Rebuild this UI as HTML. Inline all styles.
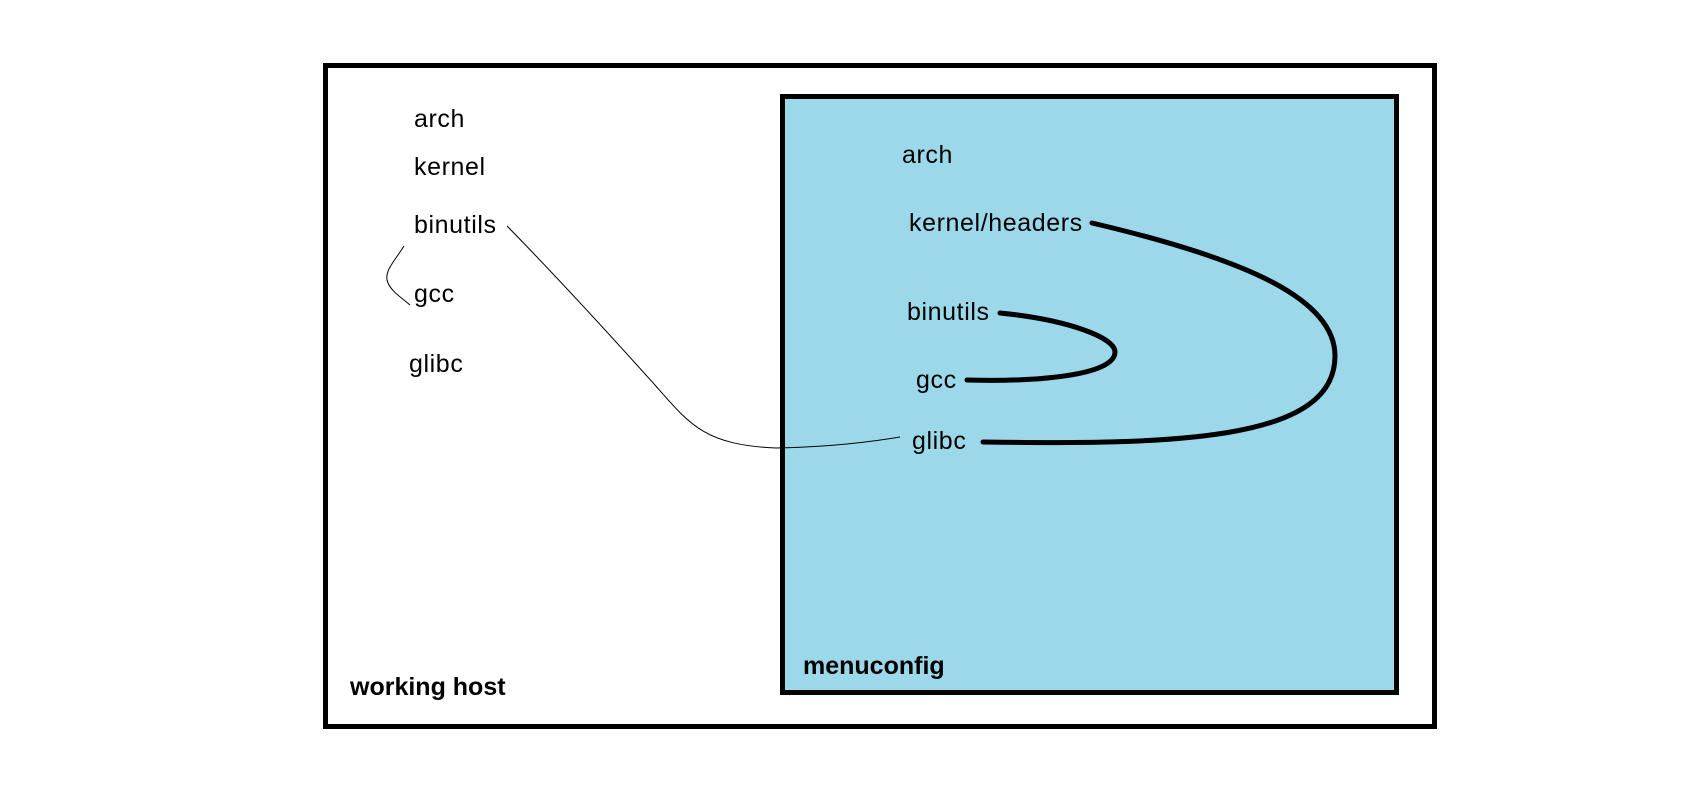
<!DOCTYPE html>
<html><head><meta charset="utf-8"><style>
html,body{margin:0;padding:0;background:#fff;}
svg{display:block;}
text{font-family:"Liberation Sans",sans-serif;font-size:25px;fill:#000;letter-spacing:0.6px;}
.b{font-weight:bold;letter-spacing:0;}
</style></head><body>
<svg width="1687" height="808" viewBox="0 0 1687 808" xmlns="http://www.w3.org/2000/svg">
<rect x="325.5" y="65.5" width="1109" height="661" fill="#fff" stroke="#000" stroke-width="5"/>
<rect x="782.5" y="96.5" width="614" height="596" fill="#9BD9EA" stroke="#000" stroke-width="5"/>
<text x="414" y="127">arch</text>
<text x="414" y="175">kernel</text>
<text x="414" y="233">binutils</text>
<text x="414" y="302">gcc</text>
<text x="409" y="372">glibc</text>
<text x="902" y="163">arch</text>
<text x="909" y="231">kernel/headers</text>
<text x="907" y="320">binutils</text>
<text x="916" y="388">gcc</text>
<text x="912" y="449">glibc</text>
<text class="b" x="803" y="674">menuconfig</text>
<text class="b" x="350" y="695">working host</text>
<path d="M404,246 C394,262 383,272 388,283 C392,292 402,298 410,305" fill="none" stroke="#000" stroke-width="1"/>
<path d="M507,226 C560,280 610,335 655,385 C690,425 705,445 776,448 C830,447 870,442 900,437" fill="none" stroke="#000" stroke-width="1"/>
<path d="M1092,223 C1250,260 1335,300 1335,356 C1335,440 1180,445 983,442" fill="none" stroke="#000" stroke-width="5" stroke-linecap="round"/>
<path d="M1000,313 C1070,320 1115,338 1115,352 C1115,375 1040,382 967,380" fill="none" stroke="#000" stroke-width="5" stroke-linecap="round"/>
</svg>
</body></html>
